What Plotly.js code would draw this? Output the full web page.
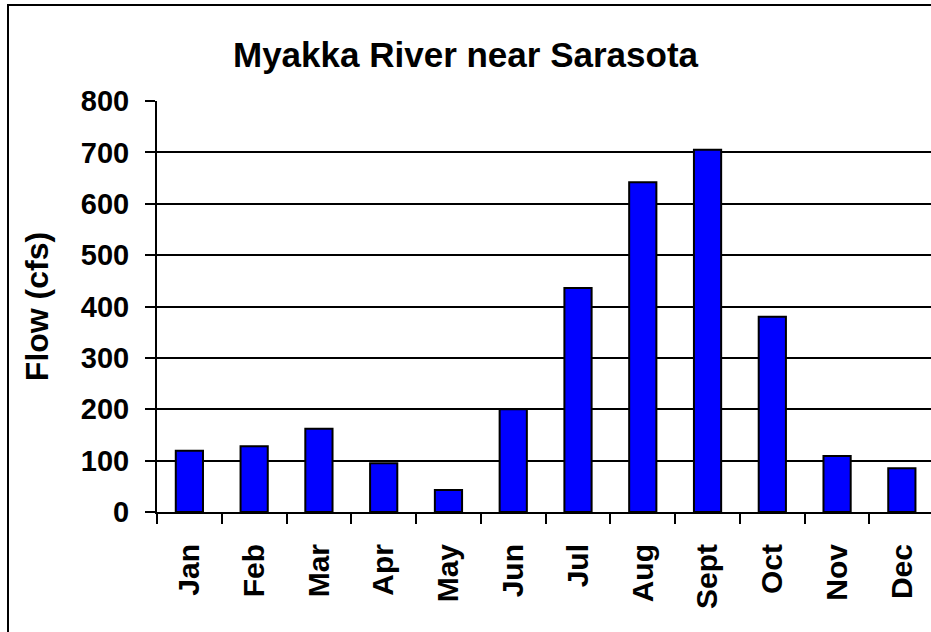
<!DOCTYPE html>
<html>
<head>
<meta charset="utf-8">
<script src="https://cdn.plot.ly/plotly-3.0.1.min.js"></script>
<style>
  body { margin: 0; overflow: hidden; background: #fff; }
  #chart { width: 931px; height: 632px; }
  #frame {
    position: absolute; left: 7px; top: 4px;
    width: 2000px; height: 2000px;
    border: 2.5px solid #000; pointer-events: none;
  }
</style>
</head>
<body>
<div id="chart"></div>
<div id="frame"></div>
<script>
var months = ['Jan', 'Feb', 'Mar', 'Apr', 'May', 'Jun', 'Jul', 'Aug', 'Sept', 'Oct', 'Nov', 'Dec'];
var flow = [119, 128, 162, 95, 43, 200, 436, 642, 705, 380, 109, 85];
var yTicks = [0, 100, 200, 300, 400, 500, 600, 700, 800];

var font_family = 'Arial, "Liberation Sans", sans-serif';

var flow_trace = {
	type: 'bar',
	x: months,
	y: flow,
	marker: {
		color: '#0000FF',
		line: { color: '#000000', width: 2 }
	},
	hoverinfo: 'x+y'
};

var layout = {
	width: 931,
	height: 632,
	paper_bgcolor: '#ffffff',
	plot_bgcolor: '#ffffff',
	showlegend: false,
	bargap: 0.58,
	title: {
		text: 'Myakka River near Sarasota',
		font: { family: font_family, size: 35, color: '#000', weight: 700 },
		x: 0.5,
		xref: 'container',
		y: 1 - 55 / 632,
		yref: 'container',
		yanchor: 'middle'
	},
	margin: {
		t: 101, //top margin
		l: 157, //left margin
		r: 0,   //right margin
		b: 120  //bottom margin
	},
	xaxis: {
		type: 'category',
		range: [-0.5, 11.45],
		showline: true,
		linecolor: '#000',
		linewidth: 2,
		ticks: 'outside',
		tickson: 'boundaries',
		ticklen: 10,
		tickwidth: 2,
		tickcolor: '#000',
		tickangle: -90,
		ticklabelstandoff: 18,
		tickfont: { family: font_family, size: 30, color: '#000', weight: 700 },
		showgrid: false,
		zeroline: false,
		automargin: false
	},
	yaxis: {
		range: [0, 800],
		tickvals: yTicks,
		showline: true,
		linecolor: '#000',
		linewidth: 2,
		ticks: 'outside',
		ticklen: 10,
		tickwidth: 2,
		tickcolor: '#000',
		ticklabelstandoff: 10,
		tickfont: { family: font_family, size: 29, color: '#000', weight: 700 },
		showgrid: true,
		gridcolor: '#000',
		gridwidth: 2,
		zeroline: false,
		automargin: false,
		title: {
			text: 'Flow (cfs)',
			font: { family: font_family, size: 32, color: '#000', weight: 700 },
			standoff: 23
		}
	}
};

Plotly.newPlot('chart', [flow_trace], layout, { displayModeBar: false, staticPlot: true });
</script>
</body>
</html>
